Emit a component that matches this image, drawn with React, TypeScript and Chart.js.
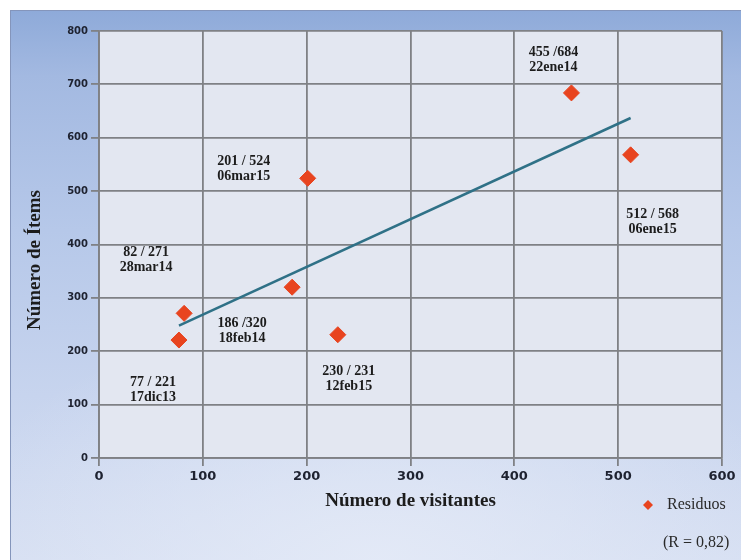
import React, { useEffect, useRef } from 'react';
import { Chart, registerables } from 'chart.js';

Chart.register(...registerables);

// ---- data ----
const visitors = [77, 82, 186, 201, 230, 455, 512];
const items = [221, 271, 320, 524, 231, 684, 568];
const pairLabels = ['77 / 221', '82 / 271', '186 /320', '201 / 524', '230 / 231', '455 /684', '512 / 568'];
const dateLabels = ['17dic13', '28mar14', '18feb14', '06mar15', '12feb15', '22ene14', '06ene15'];
const trendVisitors = [77, 512];
const trendItems = [248, 637];
const xMin = 0, xMax = 600, xStep = 100;
const yMin = 0, yMax = 800, yStep = 100;
const seriesName = 'Residuos';
const rText = '(R = 0,82)';
const xTitle = 'Número de visitantes';
const yTitle = 'Número de Ítems';

// ---- layout (label offsets in px from each marker) ----
const labelOffsets: [number, number][] = [
  [-26, 42], [-38, -61], [-50, 36], [-64, -17], [11, 37], [-18, -41], [22, 60],
];

const POINT_COLOR = '#e8441f';
const GRID = '#7f8185';
const SERIF = '"Liberation Serif", "DejaVu Serif", serif';
const SANS = '"DejaVu Sans", sans-serif';

const decorPlugin = {
  id: 'decor',
  beforeDraw(chart: any) {
    const { ctx, chartArea } = chart;
    ctx.save();
    ctx.fillStyle = '#e3e7f1';
    ctx.fillRect(chartArea.left, chartArea.top, chartArea.right - chartArea.left, chartArea.bottom - chartArea.top);
    ctx.restore();
  },
  afterDatasetsDraw(chart: any) {
    const { ctx } = chart;
    const meta = chart.getDatasetMeta(0);
    ctx.save();
    ctx.font = `bold 14px ${SERIF}`;
    ctx.fillStyle = '#1c1c1c';
    ctx.textAlign = 'center';
    ctx.textBaseline = 'middle';
    meta.data.forEach((el: any, i: number) => {
      const [dx, dy] = labelOffsets[i];
      ctx.fillText(pairLabels[i], el.x + dx, el.y + dy);
      ctx.fillText(dateLabels[i], el.x + dx, el.y + dy + 15);
    });
    ctx.restore();
  },
  afterDraw(chart: any) {
    const { ctx } = chart;
    ctx.save();
    // y title
    ctx.translate(25, 250);
    ctx.rotate(-Math.PI / 2);
    ctx.font = `bold 19px ${SERIF}`;
    ctx.fillStyle = '#1c1c1c';
    ctx.textAlign = 'center';
    ctx.textBaseline = 'middle';
    ctx.fillText(yTitle, 0, 0);
    ctx.restore();

    // legend
    ctx.save();
    const lx = 638, ly = 495, r = 5;
    ctx.fillStyle = POINT_COLOR;
    ctx.beginPath();
    ctx.moveTo(lx, ly - r);
    ctx.lineTo(lx + r, ly);
    ctx.lineTo(lx, ly + r);
    ctx.lineTo(lx - r, ly);
    ctx.closePath();
    ctx.fill();
    ctx.font = `16px ${SERIF}`;
    ctx.fillStyle = '#2a2a2a';
    ctx.textAlign = 'left';
    ctx.textBaseline = 'middle';
    ctx.fillText(seriesName, 657, ly);
    ctx.fillText(rText, 653, 533);
    ctx.restore();
  },
};

export default function App() {
  const ref = useRef<HTMLCanvasElement | null>(null);

  useEffect(() => {
    if (!ref.current) return;
    const chart = new Chart(ref.current, {
      type: 'scatter',
      data: {
        datasets: [
          {
            label: seriesName,
            data: visitors.map((v, i) => ({ x: v, y: items[i] })),
            pointStyle: 'rectRot',
            pointRadius: 8,
            pointHoverRadius: 8,
            backgroundColor: POINT_COLOR,
            borderColor: POINT_COLOR,
            borderWidth: 1,
          },
          {
            label: 'Tendencia',
            data: trendVisitors.map((v, i) => ({ x: v, y: trendItems[i] })),
            showLine: true,
            pointRadius: 0,
            borderColor: '#2f7187',
            borderWidth: 2.5,
            backgroundColor: '#2f7187',
          },
        ],
      } as any,
      options: {
        animation: false,
        responsive: false,
        events: [],
        layout: { padding: { left: 0, top: 21, right: 19, bottom: 0 } },
        plugins: {
          legend: { display: false },
          tooltip: { enabled: false },
        },
        scales: {
          x: {
            type: 'linear',
            min: xMin,
            max: xMax,
            ticks: {
              stepSize: xStep,
              color: '#1e2230',
              font: { family: SANS, size: 13, weight: 'bold' },
              padding: 3,
            },
            grid: { color: GRID, lineWidth: 1.8, tickLength: 8 },
            border: { color: GRID, width: 1.8 },
            title: {
              display: true,
              text: xTitle,
              color: '#1c1c1c',
              font: { family: SERIF, size: 19, weight: 'bold' },
              padding: { top: 0, bottom: 48 },
            },
            afterFit(scale: any) {
              scale.height = 102;
            },
          },
          y: {
            type: 'linear',
            min: yMin,
            max: yMax,
            ticks: {
              stepSize: yStep,
              color: '#1e2230',
              font: { family: SANS, size: 10, weight: 'bold' },
              padding: 3,
            },
            grid: { color: GRID, lineWidth: 1.8, tickLength: 8 },
            border: { color: GRID, width: 1.8 },
            afterFit(scale: any) {
              scale.width = 89;
            },
          },
        },
      } as any,
      plugins: [decorPlugin],
    });
    return () => chart.destroy();
  }, []);

  return (
    <div style={{ position: 'absolute', left: 0, top: 0, width: 741, height: 560, background: '#ffffff', overflow: 'hidden' }}>
      <div
        style={{
          position: 'absolute',
          left: 10,
          top: 10,
          width: 731,
          height: 550,
          background:
            'radial-gradient(ellipse 60% 45% at 50% 100%, rgba(228,234,247,0.9), rgba(228,234,247,0) 100%), linear-gradient(to bottom, #8eaad9 0%, #a3b9e1 12%, #b6c8e9 40%, #c7d4ee 70%, #d6dff2 100%)',
          boxShadow: 'inset 1px 1px 0 #8495bb',
        }}
      >
        <canvas ref={ref} width={731} height={550} style={{ position: 'absolute', left: 0, top: 0 }} />
      </div>
    </div>
  );
}
